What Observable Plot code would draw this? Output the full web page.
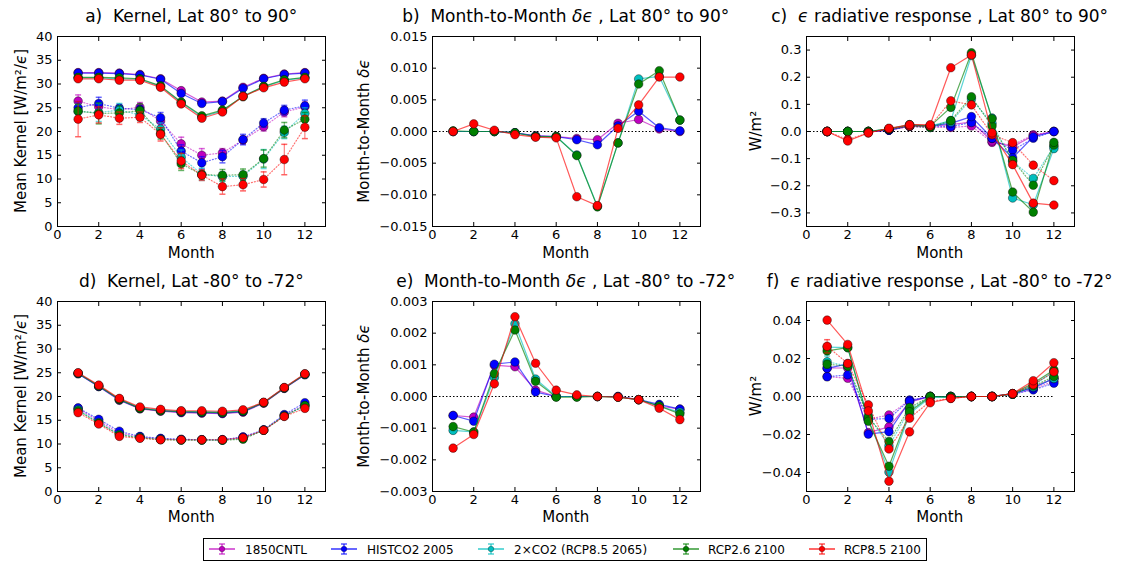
<!DOCTYPE html>
<html><head><meta charset="utf-8">
<script src="https://cdn.jsdelivr.net/npm/d3@7"></script>
<script src="https://cdn.jsdelivr.net/npm/@observablehq/plot@0.6"></script>
<style>
html,body{margin:0;padding:0;background:#fff;}
#root{position:relative;width:1123px;height:562px;overflow:hidden;font-family:"DejaVu Sans",sans-serif;}
#root svg{position:absolute;}
</style></head><body><div id="root"></div>
<script>
// ---------- data ----------
const months = [1,2,3,4,5,6,7,8,9,10,11,12];
const seriesNames = ["1850CNTL", "HISTCO2 2005", "2\u00d7CO2 (RCP8.5 2065)", "RCP2.6 2100", "RCP8.5 2100"];
const seriesColors = ["#bf00bf", "#0000ff", "#00bfbf", "#008000", "#ff0000"];
const xTicks = [0,2,4,6,8,10,12];

// a) Kernel, Lat 80 to 90 (series order: CNTL, HIST, 2xCO2, RCP2.6, RCP8.5)
const aSolid = [
  [32.4,32.4,32.3,32.0,31.1,28.6,26.2,26.4,29.3,31.2,32.1,32.4],
  [32.3,32.3,32.2,31.9,31.0,28.0,25.9,26.3,29.1,31.1,32.0,32.3],
  [31.3,31.3,31.1,31.0,29.5,26.1,23.1,24.3,27.5,29.4,30.8,31.3],
  [31.4,31.4,31.3,31.1,29.6,26.2,23.3,24.5,27.3,29.5,30.9,31.4],
  [31.1,31.1,30.8,30.8,29.3,25.8,22.8,24.1,27.4,29.2,30.4,31.1]
];
const aDotted = [
  [26.4,25.2,24.6,25.1,22.2,17.4,15.0,15.5,18.2,21.0,24.1,25.2],
  [25.0,25.9,24.9,24.6,22.9,15.9,13.4,14.7,18.3,21.8,24.5,25.4],
  [24.2,24.0,24.5,23.5,20.5,14.6,11.0,10.5,10.6,14.2,19.8,23.8],
  [24.3,23.8,23.9,24.4,19.6,13.2,10.9,10.8,10.9,14.3,20.3,22.6],
  [22.6,23.5,22.8,23.0,19.4,13.8,10.8,8.4,8.8,9.9,14.1,20.9]
];
const aDottedErr = [
  [1.3,1.2,0.9,1.0,1.0,1.4,1.4,0.9,0.8,0.9,1.0,1.0],
  [1.2,1.3,0.8,0.8,1.1,1.3,1.3,1.3,1.1,0.9,1.0,1.2],
  [1.5,1.9,1.4,1.2,1.3,1.5,1.3,1.0,1.0,2.0,1.3,1.2],
  [1.4,2.2,1.5,1.4,1.2,1.4,0.9,1.2,1.2,1.8,1.6,1.4],
  [3.7,1.7,1.3,1.1,1.4,1.6,1.1,1.6,1.3,1.6,3.2,2.4]
];
// b) Month-to-Month d-eps, Lat 80 to 90
const bSolid = [
  [0,0,0,-0.0002,-0.0007,-0.0008,-0.0011,-0.0013,0.0013,0.0019,0.0004,0.0],
  [0,0,0,-0.0002,-0.0007,-0.0008,-0.0013,-0.0021,0.0009,0.0032,0.0006,0.0001],
  [0,0,0,-0.0002,-0.0008,-0.0008,-0.0037,-0.0118,-0.0018,0.0083,0.0087,0.0018],
  [0.0001,0,0,-0.0002,-0.0008,-0.0008,-0.0038,-0.0119,-0.0018,0.0075,0.0096,0.0018],
  [0,0.0012,0.0002,-0.0005,-0.0009,-0.0010,-0.0103,-0.0117,0.0005,0.0042,0.0086,0.0086]
];
// c) eps radiative response, Lat 80 to 90
const cSolid = [
  [0,0,0,0.005,0.020,0.020,0.025,0.035,-0.035,-0.057,-0.015,0],
  [0,0,0,0.005,0.022,0.022,0.030,0.055,-0.025,-0.097,-0.020,0],
  [0,0,0,0.010,0.025,0.020,0.040,0.280,0.050,-0.245,-0.270,-0.063],
  [0,0,0,0.010,0.025,0.020,0.089,0.290,0.047,-0.223,-0.297,-0.040],
  [0,-0.035,-0.005,0.012,0.025,0.025,0.235,0.282,-0.005,-0.122,-0.264,-0.271]
];
const cDotted = [
  [0,0,0,0.005,0.018,0.015,0.015,0.020,-0.040,-0.050,-0.012,0],
  [0,0,0,0.005,0.020,0.020,0.018,0.033,-0.026,-0.069,-0.025,0],
  [0,0,0,0.008,0.020,0.015,0.035,0.120,0.030,-0.110,-0.173,-0.055],
  [0,0,0,0.008,0.020,0.015,0.040,0.128,0.020,-0.106,-0.198,-0.050],
  [0,-0.030,-0.005,0.010,0.020,0.020,0.113,0.098,-0.012,-0.041,-0.124,-0.181]
];
// d) Kernel, Lat -80 to -72
const dSolid = [
  [24.8,22.1,19.2,17.4,16.9,16.6,16.5,16.4,16.7,18.6,21.7,24.6],
  [24.8,22.1,19.3,17.5,17.0,16.7,16.6,16.5,16.8,18.7,21.8,24.6],
  [24.9,22.2,19.4,17.6,17.1,16.9,16.8,16.7,17.0,18.7,21.8,24.7],
  [24.9,22.2,19.4,17.5,17.0,16.8,16.7,16.6,16.9,18.7,21.8,24.7],
  [25.0,22.4,19.6,17.8,17.3,17.0,17.0,16.9,17.2,18.8,21.9,24.8]
];
const dDotted = [
  [17.5,14.8,12.3,11.5,11.1,10.9,10.9,10.9,11.4,12.9,16.0,18.2],
  [17.6,15.2,12.7,11.6,11.2,11.0,10.9,10.9,11.5,13.0,16.2,18.7],
  [17.2,14.5,12.0,11.4,11.0,10.9,10.9,10.8,11.2,12.9,15.9,18.0],
  [17.0,14.4,11.9,11.3,10.9,10.8,10.8,10.8,11.0,12.9,15.9,18.1],
  [16.6,14.2,11.6,11.2,10.9,10.9,10.9,10.9,11.3,12.9,15.8,17.5]
];
// e) Month-to-Month d-eps, Lat -80 to -72
const eSolid = [
  [-0.0006,-0.00065,0.00099,0.00094,0.0002,0,0,0,0,-0.0001,-0.0003,-0.0004],
  [-0.0006,-0.00078,0.00102,0.00109,0.00014,0,0,0,0,-0.0001,-0.00025,-0.0004],
  [-0.00107,-0.00112,0.0006,0.0023,0.00055,0,0,0,-0.00002,-0.0001,-0.0003,-0.0005],
  [-0.00095,-0.00112,0.00072,0.0021,0.00048,-0.00002,-0.00002,0,-0.00002,-0.0001,-0.0003,-0.00055],
  [-0.00163,-0.0012,0.0004,0.00252,0.00105,0.0002,0.00005,0,-0.00002,-0.0001,-0.00037,-0.00073]
];
// f) eps radiative response, Lat -80 to -72
const fSolid = [
  [0.0150,0.0150,-0.0190,-0.0160,-0.0030,0,0,0,0,0.0015,0.0050,0.0095],
  [0.0148,0.0172,-0.0198,-0.0185,-0.0025,0,0,0,0,0.0015,0.0045,0.0095],
  [0.0260,0.0257,-0.0120,-0.0398,-0.0090,-0.0005,-0.0005,0,0,0.0012,0.0060,0.0130],
  [0.0240,0.0257,-0.0130,-0.0367,-0.0080,0,-0.0003,0,0,0.0015,0.0070,0.0140],
  [0.0402,0.0274,-0.0076,-0.0446,-0.0186,-0.0033,-0.0010,0,0,0.0015,0.0083,0.0178]
];
const fDotted = [
  [0.0105,0.0096,-0.0120,-0.0097,-0.0020,0,0,0,0,0.0012,0.0040,0.0080],
  [0.0104,0.0114,-0.0120,-0.0116,-0.0019,0,0,0,0,0.0012,0.0035,0.0070],
  [0.0183,0.0160,-0.0100,-0.0260,-0.0070,0,0,0,0,0.0012,0.0050,0.0095],
  [0.0170,0.0160,-0.0110,-0.0237,-0.0058,0,0,0,0,0.0012,0.0055,0.0105],
  [0.0264,0.0174,-0.0044,-0.0276,-0.0114,-0.0026,-0.0010,0,0,0.0014,0.0062,0.0130]
];
const fDottedErr = [
  [0.0015,0.0012,0.0010,0.0010,0,0,0,0,0,0,0,0],
  [0.0015,0.0012,0.0010,0.0010,0,0,0,0,0,0,0,0],
  [0.0030,0.0015,0.0010,0.0010,0,0,0,0,0,0,0,0],
  [0.0020,0.0015,0.0010,0.0010,0,0,0,0,0,0,0,0],
  [0.0035,0.0015,0.0010,0.0010,0,0,0,0,0,0,0,0]
];

const ticksKernel = [0,5,10,15,20,25,30,35,40];
const ticksB = [-0.015,-0.010,-0.005,0,0.005,0.010,0.015];
const ticksC = [-0.3,-0.2,-0.1,0,0.1,0.2,0.3];
const ticksE = [-0.003,-0.002,-0.001,0,0.001,0.002,0.003];
const ticksF = [-0.04,-0.02,0,0.02,0.04];

// ---------- layout ----------
const colLeft = [57.3, 431.7, 805.7];
const rowTop = [36, 301];
const frameW = 268, frameH = 190;
const ML = 55, MR = 8, MT = 8, MB = 26;

const capSymbol = {draw(ctx) { ctx.moveTo(-3, 0); ctx.lineTo(3, 0); }};

function makePanel(p) {
  const marks = [];
  if (p.zero) marks.push(Plot.ruleY([0], {x1: 0, x2: 12, stroke: "black", strokeWidth: 1, strokeDasharray: "1.5,2"}));
  seriesNames.forEach((name, i) => {
    const color = seriesColors[i];
    const layers = [];
    if (p.dotted) layers.push({vals: p.dotted[i], err: p.dottedErr ? p.dottedErr[i] : null, dash: "1,2"});
    layers.push({vals: p.solid[i], err: null, dash: null});
    for (const L of layers) {
      const data = months.map((m, j) => ({month: m, v: L.vals[j], e: L.err ? L.err[j] : 0}));
      const lineOpts = {x: "month", y: "v", stroke: color, strokeWidth: 1.2, strokeOpacity: L.dash ? 0.55 : 0.65};
      if (L.dash) lineOpts.strokeDasharray = L.dash;
      marks.push(Plot.line(data, lineOpts));
      if (L.err) {
        const ed = data.filter(d => d.e > 0);
        marks.push(Plot.ruleX(ed, {x: "month", y1: d => d.v - d.e, y2: d => d.v + d.e, stroke: color, strokeOpacity: 0.6, strokeWidth: 1}));
        marks.push(Plot.dot(ed, {x: "month", y: d => d.v - d.e, symbol: capSymbol, stroke: color, strokeOpacity: 0.6, fill: "none"}));
        marks.push(Plot.dot(ed, {x: "month", y: d => d.v + d.e, symbol: capSymbol, stroke: color, strokeOpacity: 0.6, fill: "none"}));
      }
      marks.push(Plot.dot(data, {x: "month", y: "v", r: 4.3, fill: color, stroke: "black", strokeOpacity: 0.5, strokeWidth: 0.8}));
    }
  });
  const fmt = d3.format(p.fmt);
  marks.push(
    Plot.axisX({anchor: "bottom", ticks: xTicks, tickSize: -4, tickPadding: 7, tickFormat: d3.format("d"), label: null}),
    Plot.axisX({anchor: "top", ticks: xTicks, tickSize: -4, tickFormat: () => "", label: null}),
    Plot.axisY({anchor: "left", ticks: p.yTicks, tickSize: -4, tickPadding: 9, tickFormat: fmt, label: null}),
    Plot.axisY({anchor: "right", ticks: p.yTicks, tickSize: -4, tickFormat: () => "", label: null}),
    Plot.frame({stroke: "black", strokeWidth: 1})
  );
  const svg = Plot.plot({
    width: frameW + ML + MR,
    height: frameH + MT + MB,
    marginLeft: ML, marginRight: MR, marginTop: MT, marginBottom: MB,
    x: {domain: [0, 13], axis: null},
    y: {domain: p.yDomain, axis: null},
    style: {fontFamily: "'DejaVu Sans', sans-serif", fontSize: "13px", background: "transparent", color: "black", overflow: "visible"},
    marks
  });
  svg.style.left = (colLeft[p.col] - ML) + "px";
  svg.style.top = (rowTop[p.row] - MT) + "px";
  document.getElementById("root").appendChild(svg);
}

const panels = [
  {col: 0, row: 0, yDomain: [0, 40], yTicks: ticksKernel, fmt: "d", solid: aSolid, dotted: aDotted, dottedErr: aDottedErr, zero: false},
  {col: 1, row: 0, yDomain: [-0.015, 0.015], yTicks: ticksB, fmt: ".3f", solid: bSolid, zero: true},
  {col: 2, row: 0, yDomain: [-0.35, 0.35], yTicks: ticksC, fmt: ".1f", solid: cSolid, dotted: cDotted, zero: true},
  {col: 0, row: 1, yDomain: [0, 40], yTicks: ticksKernel, fmt: "d", solid: dSolid, dotted: dDotted, zero: false},
  {col: 1, row: 1, yDomain: [-0.003, 0.003], yTicks: ticksE, fmt: ".3f", solid: eSolid, zero: true},
  {col: 2, row: 1, yDomain: [-0.05, 0.05], yTicks: ticksF, fmt: ".2f", solid: fSolid, dotted: fDotted, dottedErr: fDottedErr, zero: true}
];
panels.forEach(makePanel);

// ---------- overlay text ----------
const ov = d3.select("#root").append("svg").attr("width", 1123).attr("height", 562)
  .style("left", "0px").style("top", "0px")
  .attr("font-family", "'DejaVu Sans', sans-serif");

function addText(x, y, parts, size, rotate) {
  const t = ov.append("text").attr("x", x).attr("y", y).attr("font-size", size)
    .attr("text-anchor", "middle").attr("fill", "black").attr("xml:space", "preserve");
  if (rotate) t.attr("transform", `rotate(-90 ${x} ${y})`);
  for (const p of parts) {
    const s = t.append("tspan").text(p.t);
    if (p.i) s.attr("font-style", "italic");
  }
}
const colCenter = colLeft.map(l => l + frameW / 2);
const titleY = [22, 287];
const NB = "\u00a0";
addText(colCenter[0], titleY[0], [{t: "a)" + NB + NB + "Kernel, Lat 80\u00b0 to 90\u00b0"}], 17);
addText(colCenter[1], titleY[0], [{t: "b)" + NB + NB + "Month-to-Month "}, {t: "\u03b4\u03f5", i: true}, {t: " , Lat 80\u00b0 to 90\u00b0"}], 17);
addText(colCenter[2], titleY[0], [{t: "c)" + NB + NB}, {t: "\u03f5", i: true}, {t: " radiative response , Lat 80\u00b0 to 90\u00b0"}], 17);
addText(colCenter[0], titleY[1], [{t: "d)" + NB + NB + "Kernel, Lat -80\u00b0 to -72\u00b0"}], 17);
addText(colCenter[1], titleY[1], [{t: "e)" + NB + NB + "Month-to-Month "}, {t: "\u03b4\u03f5", i: true}, {t: " , Lat -80\u00b0 to -72\u00b0"}], 17);
addText(colCenter[2], titleY[1], [{t: "f)" + NB + NB}, {t: "\u03f5", i: true}, {t: " radiative response , Lat -80\u00b0 to -72\u00b0"}], 17);

const xLabY = [258, 522];
for (let r = 0; r < 2; r++) for (let c = 0; c < 3; c++) addText(colCenter[c], xLabY[r], [{t: "Month"}], 15);

const rowCenter = rowTop.map(t => t + frameH / 2);
const yLabX = [26, 369, 761];
for (let r = 0; r < 2; r++) {
  addText(yLabX[0], rowCenter[r], [{t: "Mean Kernel [W/m\u00b2/"}, {t: "\u03f5", i: true}, {t: "]"}], 15, true);
  addText(yLabX[1], rowCenter[r], [{t: "Month-to-Month "}, {t: "\u03b4\u03f5", i: true}], 15, true);
  addText(yLabX[2], rowCenter[r], [{t: "W/m\u00b2"}], 15, true);
}

// ---------- legend ----------
const legSymX = [222, 344, 491, 686, 822];
const legTextX = [245, 367, 514, 708, 844];
const legY = 549;
ov.append("rect").attr("x", 203.5).attr("y", 538.5).attr("width", 723).attr("height", 22)
  .attr("fill", "white").attr("stroke", "black").attr("stroke-width", 1);
seriesNames.forEach((name, i) => {
  const g = ov.append("g");
  const c = seriesColors[i], x = legSymX[i];
  g.append("line").attr("x1", x - 13).attr("x2", x + 13).attr("y1", legY).attr("y2", legY).attr("stroke", c).attr("stroke-width", 1.2);
  g.append("line").attr("x1", x).attr("x2", x).attr("y1", legY - 5).attr("y2", legY + 5).attr("stroke", c).attr("stroke-width", 1);
  g.append("line").attr("x1", x - 3).attr("x2", x + 3).attr("y1", legY - 5).attr("y2", legY - 5).attr("stroke", c);
  g.append("line").attr("x1", x - 3).attr("x2", x + 3).attr("y1", legY + 5).attr("y2", legY + 5).attr("stroke", c);
  g.append("circle").attr("cx", x).attr("cy", legY).attr("r", 2.8).attr("fill", c).attr("stroke", "black").attr("stroke-opacity", 0.5).attr("stroke-width", 0.6);
  g.append("text").attr("x", legTextX[i]).attr("y", legY + 4.5).attr("font-size", 12).attr("fill", "black").text(name);
});
</script>
</body></html>
